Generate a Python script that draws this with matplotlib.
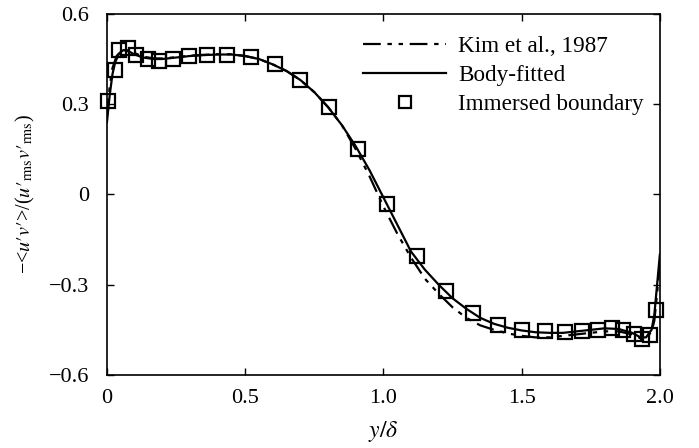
import matplotlib
matplotlib.use("Agg")
import matplotlib.pyplot as plt

plt.rcParams['font.family'] = ['Liberation Serif', 'DejaVu Serif']
plt.rcParams['mathtext.fontset'] = 'stix'

# Body-fitted (solid)
bf_y = [0.0, 0.01, 0.02, 0.03, 0.045, 0.06, 0.08, 0.10, 0.13, 0.17, 0.20, 0.25, 0.30, 0.35,
        0.40, 0.45, 0.50, 0.55, 0.60, 0.65, 0.70, 0.75, 0.80, 0.85, 0.90, 0.95, 1.00, 1.05,
        1.10, 1.15, 1.20, 1.25, 1.30, 1.35, 1.40, 1.45, 1.50, 1.55, 1.60, 1.65, 1.70, 1.75,
        1.80, 1.85, 1.90, 1.93, 1.95, 1.97, 1.98, 1.99, 2.0]
bf_v = [0.24, 0.33, 0.40, 0.44, 0.47, 0.48, 0.475, 0.465, 0.455, 0.45, 0.45, 0.455, 0.46, 0.463,
        0.465, 0.465, 0.46, 0.45, 0.432, 0.41, 0.38, 0.34, 0.29, 0.23, 0.16, 0.08, -0.01, -0.10,
        -0.19, -0.25, -0.30, -0.345, -0.38, -0.41, -0.43, -0.443, -0.452, -0.458, -0.46, -0.46,
        -0.455, -0.45, -0.445, -0.447, -0.46, -0.475, -0.475, -0.45, -0.40, -0.30, -0.20]

# Kim et al., 1987 (dash-dot-dot)
kim_y = [0.0, 0.01, 0.02, 0.035, 0.05, 0.07, 0.10, 0.13, 0.17, 0.20, 0.25, 0.30, 0.35, 0.40,
         0.45, 0.50, 0.55, 0.60, 0.65, 0.70, 0.75, 0.80, 0.85, 0.90, 0.95, 1.00, 1.05, 1.10,
         1.15, 1.20, 1.25, 1.30, 1.35, 1.40, 1.45, 1.50, 1.55, 1.60, 1.65, 1.70, 1.75, 1.80,
         1.85, 1.90, 1.93, 1.95, 1.97, 1.98, 1.99, 2.0]
kim_v = [0.26, 0.36, 0.42, 0.46, 0.475, 0.48, 0.47, 0.458, 0.452, 0.452, 0.456, 0.461, 0.464, 0.466,
         0.466, 0.46, 0.45, 0.432, 0.41, 0.38, 0.34, 0.29, 0.23, 0.15, 0.06, -0.04, -0.13, -0.21,
         -0.28, -0.33, -0.375, -0.41, -0.435, -0.45, -0.462, -0.47, -0.475, -0.475, -0.47, -0.465,
         -0.46, -0.455, -0.455, -0.465, -0.478, -0.48, -0.455, -0.42, -0.33, -0.22]

# Immersed boundary (squares)
ib_y = [0.005, 0.029, 0.043, 0.077, 0.105, 0.147, 0.188, 0.238, 0.298, 0.363, 0.433, 0.52,
        0.608, 0.698, 0.804, 0.909, 1.014, 1.12, 1.226, 1.323, 1.415, 1.503, 1.584, 1.656,
        1.72, 1.777, 1.828, 1.867, 1.907, 1.937, 1.964, 1.985]
ib_v = [0.31, 0.414, 0.48, 0.487, 0.462, 0.451, 0.445, 0.451, 0.459, 0.464, 0.464, 0.456,
        0.432, 0.381, 0.292, 0.152, -0.033, -0.206, -0.322, -0.393, -0.433, -0.450, -0.455,
        -0.457, -0.454, -0.450, -0.443, -0.449, -0.463, -0.479, -0.468, -0.385]

xticks = [0, 0.5, 1.0, 1.5, 2.0]
xticklabels = ['0', '0.5', '1.0', '1.5', '2.0']
yticks = [-0.6, -0.3, 0, 0.3, 0.6]
yticklabels = ['\u22120.6', '\u22120.3', '0', '0.3', '0.6']

fig = plt.figure(figsize=(6.99, 4.48), dpi=100)
ax = fig.add_axes([0.153, 0.163, 0.791, 0.806])

ax.plot(kim_y, kim_v, color='black', lw=1.6, dashes=[8, 3, 2, 3, 2, 3], label='Kim et al., 1987')
ax.plot(bf_y, bf_v, color='black', lw=1.6, label='Body-fitted')
ax.plot(ib_y, ib_v, ls='none', marker='s', ms=9.5, mfc='none', mec='black', mew=1.6,
        label='Immersed boundary', clip_on=False)

ax.set_xlim(0, 2.0)
ax.set_ylim(-0.6, 0.6)
ax.set_xticks(xticks)
ax.set_xticklabels(xticklabels)
ax.set_yticks(yticks)
ax.set_yticklabels(yticklabels)
ax.tick_params(direction='in', top=True, right=True, length=5, width=1.0, labelsize=16)
ax.tick_params(axis='y', pad=13)
ax.tick_params(axis='x', pad=10)
for s in ax.spines.values():
    s.set_linewidth(1.2)

ax.set_xlabel(r'$y/\delta$', fontsize=17, labelpad=8)
ax.set_ylabel("\u2212<$u\u2032v\u2032$>/($u\u2032_{\\rm rms}v\u2032_{\\rm rms}$)",
              fontsize=14.5, labelpad=8)

leg = ax.legend(loc='upper right', frameon=False, fontsize=16.7, handlelength=3.6,
                handletextpad=0.5, labelspacing=0.35, bbox_to_anchor=(1.0, 0.985),
                markerscale=0.9, borderaxespad=0.3)

fig.savefig('out.png', dpi=100)
